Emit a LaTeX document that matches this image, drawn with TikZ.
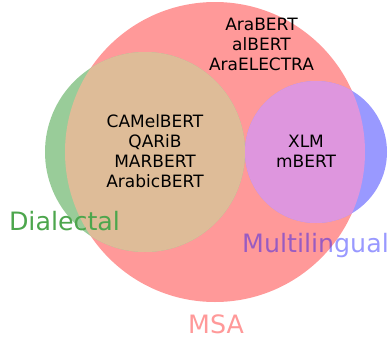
\documentclass[tikz,border=0pt]{standalone}
\usepackage{fontspec}
\setmainfont{DejaVu Sans}
\definecolor{msared}{RGB}{255,153,153}
\definecolor{dialgreen}{RGB}{153,204,153}
\definecolor{multiblue}{RGB}{153,153,255}
\definecolor{dialmsa}{RGB}{222,188,152}
\definecolor{multimsa}{RGB}{222,150,222}
\definecolor{dialtext}{RGB}{77,166,77}
\begin{document}
\begin{tikzpicture}[x=1pt,y=-1pt]
\tikzstyle{models} = [font=\fontsize{17}{19.7}\selectfont,align=center,inner sep=0pt,anchor=base]
\tikzstyle{setname} = [font=\fontsize{25.3}{30}\selectfont,inner sep=0pt,anchor=base]
\useasboundingbox (0,0) rectangle (392,341);
% the three sets
\fill[msared] (215,152) circle (150);
\fill[dialgreen] (145,152) circle (100);
\fill[multiblue] (316,152) circle (71);
% overlaps with MSA
\begin{scope}
\clip (215,152) circle (150);
\fill[dialmsa] (145,152) circle (100);
\fill[multimsa] (316,152) circle (71);
\end{scope}
% model names (base = last line)
\node[models] (msaonly) at (261.5,70) {AraBERT\\alBERT\\AraELECTRA};
\node[models] (dialmsa) at (155,187) {CAMelBERT\\QARiB\\MARBERT\\ArabicBERT};
\node[models] (multimsa) at (306,167) {XLM\\mBERT};
% set names
\node[setname,text=dialtext] (dialectal) at (64.5,230) {Dialectal};
\node[setname,text=blue,text opacity=0.4] (multilingual) at (315.5,252) {Multilingual};
\node[setname,text=red,text opacity=0.4] (msa) at (216,333) {MSA};
\end{tikzpicture}
\end{document}
